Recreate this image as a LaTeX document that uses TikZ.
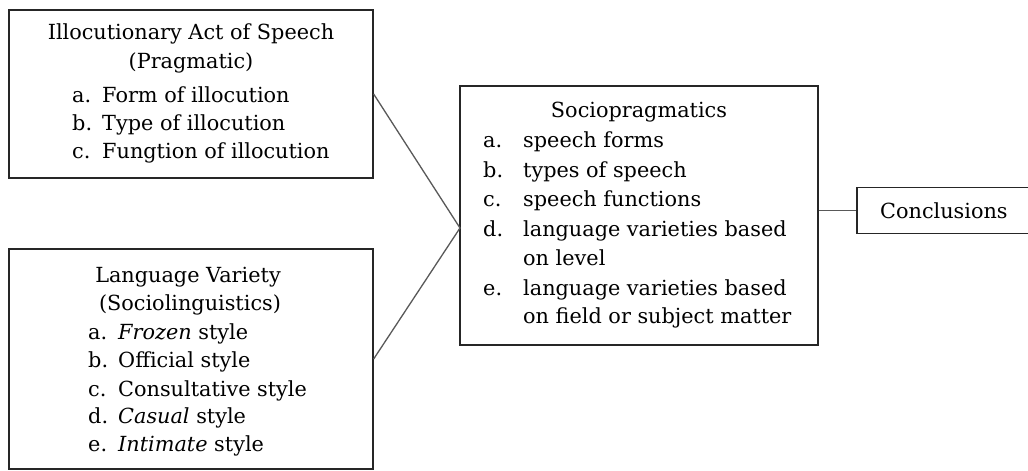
\documentclass[tikz,border=0pt]{standalone}
\usepackage{fontspec}
\setmainfont{DejaVu Serif}
\newcommand{\diagfont}{\fontsize{20.8}{24}\selectfont}
\begin{document}
\begin{tikzpicture}[x=1pt,y=-1pt,
  box/.style={draw=black!85, line width=1.3pt, inner sep=0pt, fill=white},
  link/.style={draw=black!65, line width=1.3pt},
  ltxt/.style={anchor=base west, inner sep=0pt, font=\diagfont},
  ctxt/.style={anchor=base, inner sep=0pt, font=\diagfont}]
\useasboundingbox[fill=white] (0,0) rectangle (1028,471);
% boxes
\node[box, minimum width=364pt, minimum height=168pt] (b1) at (191,94) {};
\node[box, minimum width=364pt, minimum height=220pt] (b2) at (191,359) {};
\node[box, minimum width=358pt, minimum height=259pt] (b3) at (639,215.5) {};
\node[box, minimum width=190pt, minimum height=46pt] (b4) at (952,210.5) {};
% connectors
\coordinate (join) at (460,228);
\draw[link] (b1.east) -- (join) -- (b2.east);
\draw[link] (b3.east |- b4.west) -- (b4.west);
% box 1 text
\node[ctxt] (t1h1) at (191,39) {Illocutionary Act of Speech};
\node[ctxt] (t1h2) at (191,68) {(Pragmatic)};
\node[ltxt] (t1al) at (72,102) {a.};
\node[ltxt] (t1a) at (102,102) {Form of illocution};
\node[ltxt] (t1bl) at (72,130) {b.};
\node[ltxt] (t1b) at (102,130) {Type of illocution};
\node[ltxt] (t1cl) at (72,158) {c.};
\node[ltxt] (t1c) at (102,158) {Fungtion of illocution};
% box 2 text
\node[ctxt] (t2h1) at (188,282) {Language Variety};
\node[ctxt] (t2h2) at (190,310) {(Sociolinguistics)};
\node[ltxt] (t2al) at (88,339) {a.};
\node[ltxt] (t2a) at (118,339) {\textit{Frozen} style};
\node[ltxt] (t2bl) at (88,367) {b.};
\node[ltxt] (t2b) at (118,367) {Official style};
\node[ltxt] (t2cl) at (88,396) {c.};
\node[ltxt] (t2c) at (118,396) {Consultative style};
\node[ltxt] (t2dl) at (88,423) {d.};
\node[ltxt] (t2d) at (118,423) {\textit{Casual} style};
\node[ltxt] (t2el) at (88,451) {e.};
\node[ltxt] (t2e) at (118,451) {\textit{Intimate} style};
% box 3 text
\node[ctxt] (t3h) at (639,117) {Sociopragmatics};
\node[ltxt] (t3al) at (483,147) {a.};
\node[ltxt] (t3a) at (523,147) {speech forms};
\node[ltxt] (t3bl) at (483,177) {b.};
\node[ltxt] (t3b) at (523,177) {types of speech};
\node[ltxt] (t3cl) at (483,206) {c.};
\node[ltxt] (t3c) at (523,206) {speech functions};
\node[ltxt] (t3dl) at (483,236) {d.};
\node[ltxt] (t3d) at (523,236) {language varieties based};
\node[ltxt] (t3d2) at (523,265) {on level};
\node[ltxt] (t3el) at (483,295) {e.};
\node[ltxt] (t3e) at (523,295) {language varieties based};
\node[ltxt] (t3e2) at (523,323) {on field or subject matter};
% box 4 text
\node[ltxt] (t4) at (880,218) {Conclusions};
\end{tikzpicture}
\end{document}
